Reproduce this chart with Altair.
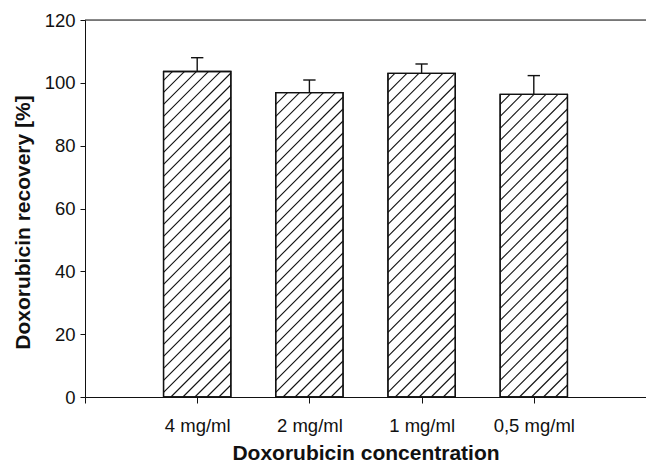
import altair as alt
import pandas as pd

# ---- data ----
categories = ["4 mg/ml", "2 mg/ml", "1 mg/ml", "0,5 mg/ml"]
recovery = [103.6, 96.9, 103.0, 96.3]
sd = [4.4, 4.0, 3.0, 6.0]

# ---- layout / style constants ----
W, H = 561, 377
XMAX = 5.0
YMAX = 120.0
HALF_BAR = 0.30
CAP_HALF = 0.055
HATCH_SPACING_PX = 12.0  # vertical distance between hatch lines
FONT = "Liberation Sans"
INK = "#111111"

px_x = W / XMAX
px_y = H / YMAX

pos = list(range(1, len(categories) + 1))
bars = pd.DataFrame({
    "pos": pos,
    "cat": categories,
    "val": recovery,
    "err": sd,
})
bars["x0"] = bars["pos"] - HALF_BAR
bars["x1"] = bars["pos"] + HALF_BAR
bars["top"] = bars["val"] + bars["err"]
bars["c0"] = bars["pos"] - CAP_HALF
bars["c1"] = bars["pos"] + CAP_HALF

# hatch segments (45 degree lines, clipped to each bar)
rows = []
for _, b in bars.iterrows():
    w = (b["x1"] - b["x0"]) * px_x
    h = b["val"] * px_y
    c = -w
    while c < h:
        xa = max(0.0, -c)
        xb = min(w, h - c)
        if xb > xa:
            rows.append({
                "hx0": b["x0"] + xa / px_x,
                "hy0": (xa + c) / px_y,
                "hx1": b["x0"] + xb / px_x,
                "hy1": (xb + c) / px_y,
            })
        c += HATCH_SPACING_PX
hatch = pd.DataFrame(rows)

label_list = "[''," + ",".join("'" + c + "'" for c in categories) + "]"

xscale = alt.Scale(domain=[0, XMAX], nice=False, zero=False)
yscale = alt.Scale(domain=[0, YMAX], nice=False)

xaxis = alt.Axis(
    title="Doxorubicin concentration",
    values=[0] + pos,
    labelExpr=label_list + "[datum.value]",
    grid=False, tickSize=6, tickColor=INK, domainColor=INK,
    labelFontSize=18.5, labelFont=FONT, labelColor=INK, labelPadding=13,
    titleFont=FONT, titleFontSize=21, titleFontWeight="bold", titleColor=INK,
    titlePadding=8, labelFlush=False,
)
yaxis = alt.Axis(
    title="Doxorubicin recovery [%]",
    values=[0, 20, 40, 60, 80, 100, 120],
    grid=False, tickSize=5, tickColor=INK, domainColor=INK,
    labelFontSize=18.5, labelFont=FONT, labelColor=INK, labelPadding=5,
    titleFont=FONT, titleFontSize=21, titleFontWeight="bold", titleColor=INK,
    titlePadding=11, titleY=202,
)

base = alt.Chart(bars)

bar_fill = base.mark_bar(fill="white", stroke=INK, strokeWidth=1.3).encode(
    x=alt.X("x0:Q", scale=xscale, axis=xaxis),
    x2="x1:Q",
    y=alt.Y("val:Q", scale=yscale, axis=yaxis),
    y2=alt.datum(0),
)

hatch_layer = alt.Chart(hatch).mark_rule(color=INK, strokeWidth=1.1).encode(
    x=alt.X("hx0:Q", scale=xscale),
    y=alt.Y("hy0:Q", scale=yscale),
    x2="hx1:Q",
    y2="hy1:Q",
)

outline = base.mark_bar(fillOpacity=0, stroke=INK, strokeWidth=1.3).encode(
    x=alt.X("x0:Q", scale=xscale),
    x2="x1:Q",
    y=alt.Y("val:Q", scale=yscale),
    y2=alt.datum(0),
)

err_stem = base.mark_rule(color=INK, strokeWidth=1.4).encode(
    x=alt.X("pos:Q", scale=xscale),
    y=alt.Y("val:Q", scale=yscale),
    y2="top:Q",
)

err_cap = base.mark_rule(color=INK, strokeWidth=1.4).encode(
    x=alt.X("c0:Q", scale=xscale),
    x2="c1:Q",
    y=alt.Y("top:Q", scale=yscale),
)

frame_top = alt.Chart(pd.DataFrame({"a": [0.0], "b": [XMAX], "y": [YMAX]})).mark_rule(
    color=INK, strokeWidth=1
).encode(
    x=alt.X("a:Q", scale=xscale),
    x2="b:Q",
    y=alt.Y("y:Q", scale=yscale),
)

chart = alt.layer(bar_fill, hatch_layer, outline, err_stem, err_cap, frame_top).properties(
    width=W,
    height=H,
    autosize=alt.AutoSizeParams(type="none"),
    padding={"left": 85, "top": 20, "right": 0, "bottom": 66},
).configure_view(stroke=None).configure(background="white")

chart.save("out.html", embed_options={"renderer": "svg", "actions": False})
